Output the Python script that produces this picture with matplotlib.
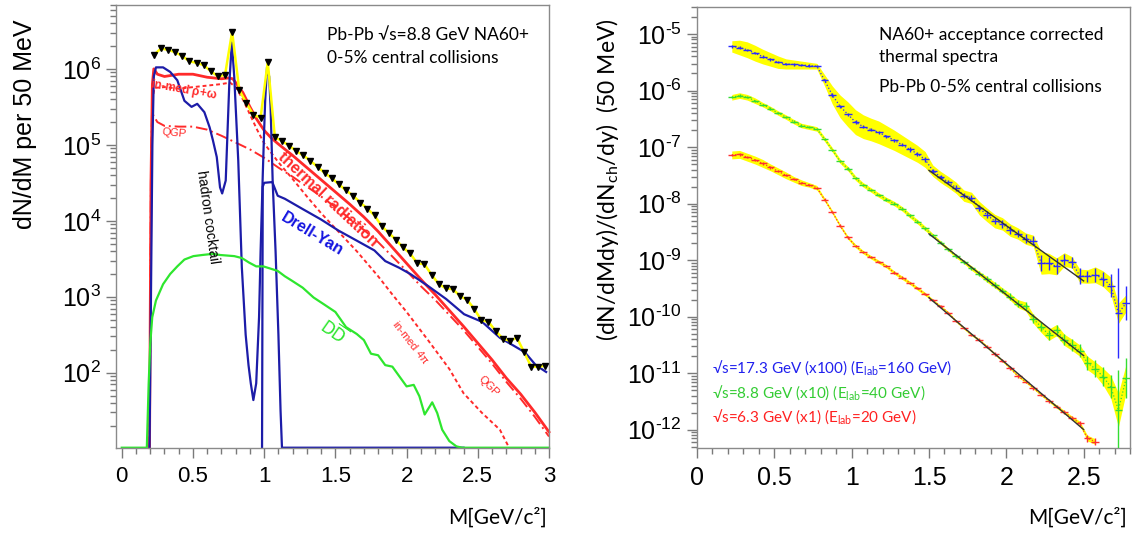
import numpy as np
import matplotlib.pyplot as plt
from matplotlib.ticker import FixedLocator, LogLocator, MultipleLocator, NullFormatter, LogFormatterMathtext

plt.rcParams['font.family'] = ['Liberation Sans', 'DejaVu Sans']
plt.rcParams['mathtext.default'] = 'regular'

TXT = ['Lato', 'DejaVu Sans']
NARROW = ['Liberation Sans Narrow', 'Liberation Sans', 'DejaVu Sans']

# ---------------- left panel: projected NA60+ spectrum (values are log10) ----------------
bins_l = np.round(np.arange(0.225, 3.0, 0.05), 3)
data_l = [6.18, 6.27, 6.25, 6.22, 6.17, 6.10, 6.08, 6.05, 5.97, 5.90, 5.92, 6.49,
          5.72, 5.55, 5.39, 5.36, 6.09, 5.10, 5.05, 4.99, 4.92, 4.86, 4.79, 4.71,
          4.63, 4.56, 4.48, 4.40, 4.33, 4.24, 4.16, 4.07, 3.93, 3.84, 3.75, 3.65,
          3.57, 3.44, 3.43, 3.29, 3.17, 3.11, 3.10, 3.01, 2.96, 2.84, 2.69, 2.67,
          2.55, 2.45, 2.42, 2.46, 2.27, 2.08, 2.08, 2.09]

therm_m = [0.195, 0.205, 0.215, 0.225, 0.25, 0.30, 0.40, 0.50, 0.60, 0.70, 0.75, 0.78,
           0.80, 0.85, 0.90, 0.95, 1.00, 1.05, 1.10, 1.20, 1.30, 1.40, 1.50, 1.60,
           1.70, 1.80, 1.90, 2.00, 2.10, 2.20, 2.30, 2.40, 2.50, 2.60, 2.70, 2.80,
           2.90, 3.00]
therm_l = [0.0, 4.5, 5.8, 6.0, 5.93, 5.90, 5.93, 5.93, 5.89, 5.87, 5.88, 5.87,
           5.82, 5.69, 5.50, 5.33, 5.19, 5.09, 5.01, 4.86, 4.70, 4.54, 4.38, 4.22,
           4.05, 3.86, 3.65, 3.44, 3.23, 3.03, 2.82, 2.61, 2.39, 2.17, 1.93, 1.72,
           1.48, 1.22]

qgp_m = [0.195, 0.205, 0.212, 0.25, 0.30, 0.40, 0.50, 0.60, 0.70, 0.80, 0.90, 1.00,
         1.10, 1.20, 1.30, 1.40, 1.50, 1.60, 1.70, 1.80, 1.90, 2.00, 2.10, 2.20,
         2.30, 2.40, 2.50, 2.60, 2.70, 2.80, 2.90, 3.00]
qgp_l = [0.0, 4.6, 5.42, 5.30, 5.25, 5.24, 5.24, 5.20, 5.12, 5.03, 4.94, 4.83,
         4.70, 4.58, 4.45, 4.32, 4.18, 4.03, 3.88, 3.72, 3.53, 3.34, 3.14, 2.96,
         2.76, 2.56, 2.34, 2.12, 1.88, 1.66, 1.42, 1.16]

inmed_m = [0.195, 0.205, 0.215, 0.23, 0.30, 0.40, 0.50, 0.60, 0.70, 0.76, 0.80, 0.85,
           0.90, 0.95, 1.00, 1.10, 1.20, 1.30, 1.40, 1.50, 1.65, 1.80, 1.90, 2.00,
           2.15, 2.30, 2.40, 2.53, 2.655, 2.72]
inmed_l = [0.0, 4.0, 5.6, 5.75, 5.76, 5.74, 5.76, 5.78, 5.80, 5.82, 5.76, 5.60,
           5.40, 5.20, 5.02, 4.77, 4.55, 4.32, 4.10, 3.90, 3.60, 3.27, 3.03, 2.80,
           2.43, 2.05, 1.73, 1.47, 1.25, 0.0]

cock_m = [0.195, 0.205, 0.215, 0.225, 0.24, 0.29, 0.34, 0.39, 0.44, 0.49, 0.53, 0.58,
          0.617, 0.64, 0.667, 0.69, 0.705, 0.73, 0.742, 0.755, 0.773, 0.79, 0.818, 0.843,
          0.87, 0.89, 0.906, 0.924, 0.944, 0.964, 0.975, 0.99, 1.0, 1.007, 1.02, 1.035,
          1.045, 1.06, 1.08, 1.10, 1.115, 1.125, 2.40]
cock_l = [0.0, 3.0, 5.0, 5.9, 6.02, 6.02, 5.96, 5.85, 5.58, 5.50, 5.54, 5.43,
          5.23, 5.06, 4.84, 4.44, 4.36, 4.53, 5.14, 5.80, 6.35, 5.89, 4.79, 3.39,
          2.50, 2.10, 1.86, 1.64, 1.86, 2.73, 3.60, 4.60, 5.20, 5.58, 6.02, 5.90,
          5.50, 4.50, 3.60, 2.50, 1.50, 0.0, 0.0]

dy_m = [0.985, 0.99, 1.00, 1.057, 1.095, 1.145, 1.27, 1.397, 1.523, 1.649, 1.774, 1.85,
        1.95, 2.026, 2.152, 2.278, 2.404, 2.53, 2.655, 2.73, 2.83, 2.907, 2.98]
dy_l = [0.0, 4.45, 4.50, 4.51, 4.33, 4.29, 4.155, 4.02, 3.87, 3.74, 3.61, 3.47,
        3.38, 3.30, 3.14, 2.97, 2.77, 2.67, 2.46, 2.38, 2.27, 2.10, 2.01]

dd_m = [0.0, 0.176, 0.189, 0.20, 0.214, 0.24, 0.29, 0.34, 0.39, 0.44, 0.503, 0.566,
        0.64, 0.69, 0.79, 0.843, 0.894, 0.944, 0.994, 1.045, 1.095, 1.145, 1.196, 1.27,
        1.347, 1.42, 1.50, 1.575, 1.65, 1.70, 1.75, 1.80, 1.85, 1.90, 1.95, 2.00,
        2.05, 2.09, 2.127, 2.18, 2.215, 2.25, 2.30, 2.35, 2.39, 3.0]
dd_l = [0.0, 0.0, 1.86, 2.38, 2.73, 2.95, 3.165, 3.30, 3.40, 3.49, 3.535, 3.55,
        3.565, 3.55, 3.535, 3.51, 3.45, 3.40, 3.40, 3.37, 3.34, 3.27, 3.21, 3.12,
        2.99, 2.90, 2.80, 2.60, 2.51, 2.43, 2.25, 2.23, 2.10, 2.08, 1.95, 1.82,
        1.84, 1.69, 1.45, 1.61, 1.47, 1.25, 1.10, 1.03, 0.0, 0.0]

# ---------------- right panel: thermal spectra (values are log10) ----------------
bins_r = np.round(np.arange(0.225, 2.8, 0.05), 3)
blue_l = [-5.22, -5.24, -5.28, -5.34, -5.40, -5.45, -5.50, -5.53, -5.54, -5.55, -5.56, -5.57,
          -5.82, -6.08, -6.28, -6.42, -6.56, -6.64, -6.69, -6.74, -6.81, -6.88, -6.96, -7.04,
          -7.12, -7.22, -7.42, -7.53, -7.62, -7.72, -7.86, -7.90, -8.08, -8.20, -8.31, -8.36,
          -8.47, -8.53, -8.62, -8.66, -9.05, -9.06, -9.11, -8.99, -9.04, -9.28, -9.29, -9.26,
          -9.33, -9.45, -9.94, -9.76]
blue_sys = [0.10, 0.13, 0.14, 0.14, 0.13, 0.12, 0.11, 0.09, 0.08, 0.07, 0.06, 0.05,
            0.10, 0.16, 0.20, 0.22, 0.22, 0.21, 0.20, 0.20, 0.19, 0.18, 0.17, 0.16,
            0.15, 0.14, 0.10, 0.10, 0.10, 0.10, 0.10, 0.10, 0.12, 0.12, 0.12, 0.11,
            0.11, 0.10, 0.10, 0.10, 0.20, 0.18, 0.15, 0.12, 0.10, 0.12, 0.12, 0.14,
            0.14, 0.15, 0.18, 0.15]
blue_stat = [0.02, 0.02, 0.02, 0.02, 0.02, 0.02, 0.02, 0.02, 0.02, 0.02, 0.02, 0.02,
             0.03, 0.03, 0.03, 0.03, 0.03, 0.03, 0.03, 0.03, 0.03, 0.03, 0.03, 0.04,
             0.04, 0.04, 0.04, 0.04, 0.04, 0.05, 0.05, 0.05, 0.06, 0.06, 0.06, 0.07,
             0.07, 0.07, 0.08, 0.08, 0.14, 0.12, 0.14, 0.10, 0.10, 0.14, 0.10, 0.12,
             0.12, 0.20, 0.80, 0.30]

green_l = [-6.12, -6.09, -6.12, -6.18, -6.25, -6.32, -6.40, -6.47, -6.55, -6.62, -6.65, -6.68,
           -6.86, -7.05, -7.25, -7.38, -7.55, -7.67, -7.76, -7.85, -7.93, -8.00, -8.09, -8.21,
           -8.32, -8.44, -8.56, -8.69, -8.81, -8.93, -9.03, -9.14, -9.24, -9.34, -9.44, -9.54,
           -9.65, -9.77, -9.82, -10.04, -10.18, -10.32, -10.24, -10.41, -10.50, -10.60, -10.82, -10.92,
           -11.06, -11.24, -11.65, -11.09]
green_sys = [0.05, 0.05, 0.05, 0.05, 0.04, 0.04, 0.04, 0.04, 0.04, 0.04, 0.04, 0.04,
             0.04, 0.04, 0.04, 0.04, 0.04, 0.04, 0.04, 0.04, 0.04, 0.04, 0.04, 0.04,
             0.04, 0.04, 0.03, 0.03, 0.03, 0.03, 0.03, 0.04, 0.04, 0.05, 0.05, 0.05,
             0.06, 0.07, 0.08, 0.08, 0.10, 0.10, 0.10, 0.10, 0.10, 0.10, 0.12, 0.12,
             0.15, 0.20, 0.30, 0.25]
green_stat = [0.02, 0.02, 0.02, 0.02, 0.02, 0.02, 0.02, 0.02, 0.02, 0.02, 0.02, 0.02,
              0.02, 0.02, 0.02, 0.02, 0.02, 0.02, 0.02, 0.02, 0.03, 0.03, 0.03, 0.03,
              0.03, 0.03, 0.03, 0.03, 0.03, 0.03, 0.04, 0.04, 0.04, 0.05, 0.05, 0.05,
              0.06, 0.06, 0.07, 0.08, 0.08, 0.09, 0.10, 0.10, 0.11, 0.12, 0.13, 0.15,
              0.17, 0.20, 0.70, 0.35]

red_bins = bins_r[:48]
red_l = [-7.14, -7.13, -7.18, -7.23, -7.29, -7.36, -7.43, -7.50, -7.57, -7.63, -7.67, -7.72,
         -7.93, -8.15, -8.39, -8.60, -8.75, -8.86, -8.95, -9.03, -9.11, -9.22, -9.31, -9.40,
         -9.50, -9.60, -9.71, -9.82, -9.93, -10.08, -10.20, -10.32, -10.41, -10.53, -10.66, -10.78,
         -10.91, -11.05, -11.15, -11.26, -11.38, -11.49, -11.59, -11.69, -11.79, -11.89, -12.15, -12.21]
red_sys = [0.07, 0.07, 0.07, 0.07, 0.07, 0.06, 0.06, 0.06, 0.05, 0.05, 0.04, 0.04,
           0.03, 0.03, 0.03, 0.03, 0.03, 0.03, 0.03, 0.03, 0.03, 0.03, 0.03, 0.03,
           0.03, 0.03, 0.02, 0.02, 0.02, 0.02, 0.02, 0.02, 0.02, 0.02, 0.02, 0.02,
           0.02, 0.02, 0.02, 0.02, 0.02, 0.02, 0.03, 0.03, 0.03, 0.04, 0.05, 0.05]
red_stat = [0.02, 0.02, 0.02, 0.02, 0.02, 0.02, 0.02, 0.02, 0.02, 0.02, 0.02, 0.02,
            0.02, 0.02, 0.02, 0.02, 0.02, 0.02, 0.02, 0.02, 0.02, 0.02, 0.02, 0.02,
            0.02, 0.02, 0.02, 0.02, 0.02, 0.02, 0.02, 0.02, 0.03, 0.03, 0.03, 0.03,
            0.03, 0.03, 0.03, 0.03, 0.03, 0.03, 0.03, 0.04, 0.04, 0.04, 0.06, 0.06]

YMIN_L, YMAX_L = 10.3, 7.0e6
YMIN_R, YMAX_R = 4.8e-13, 3.0e-5

C_RED = '#ff2a2a'
C_NAVY = '#1c1ca8'
C_GREEN = '#2ee62e'


def style_axes(ax):
    for s in ax.spines.values():
        s.set_color('#8a8a8a')
        s.set_linewidth(1.0)
    ax.tick_params(which='both', direction='out', color='#7a7a7a', labelcolor='black',
                   top=False, right=False, width=1.0)
    ax.tick_params(which='major', length=7)
    ax.tick_params(which='minor', length=4)


def curve(ax, m, logv, ymin, **kw):
    y = np.clip(10.0 ** np.asarray(logv), ymin, None)
    ax.plot(m, y, clip_on=False, **kw)


def sci_label(v, pos):
    e = int(round(np.log10(v)))
    return r'$\mathdefault{10^{%s}}$' % (('\u2010%d' % -e) if e < 0 else '%d' % e)


fig = plt.figure(figsize=(11.36, 5.36), dpi=100)

# ---------- left ----------
ax1 = fig.add_axes([0.10255, 0.16474, 0.38072, 0.82649])
ax1.set_yscale('log')
ax1.set_xlim(-0.037, 3.0)
ax1.set_ylim(YMIN_L, YMAX_L)

curve(ax1, qgp_m, qgp_l, YMIN_L, color=C_RED, lw=1.4, ls=(0, (6, 2, 1, 2)))
curve(ax1, inmed_m, inmed_l, YMIN_L, color=C_RED, lw=1.4, ls=(0, (2, 1.5)))
curve(ax1, therm_m, therm_l, YMIN_L, color=C_RED, lw=2.0)
curve(ax1, cock_m, cock_l, YMIN_L, color=C_NAVY, lw=1.6)
curve(ax1, dy_m, dy_l, YMIN_L, color=C_NAVY, lw=1.6)
curve(ax1, dd_m, dd_l, YMIN_L, color=C_GREEN, lw=1.6)

ydata = 10.0 ** np.asarray(data_l)
ax1.plot(bins_l, ydata, color='#ffff00', lw=1.8, zorder=4)
ax1.plot(bins_l, ydata, ls='none', marker='v', ms=5, color='black', zorder=5)

ax1.xaxis.set_major_locator(MultipleLocator(0.5))
ax1.xaxis.set_minor_locator(MultipleLocator(0.1))
ax1.xaxis.set_major_formatter(plt.FuncFormatter(lambda v, p: '%g' % v))
ax1.yaxis.set_major_locator(FixedLocator([1e2, 1e3, 1e4, 1e5, 1e6]))
ax1.yaxis.set_major_formatter(LogFormatterMathtext())
ax1.yaxis.set_minor_locator(LogLocator(base=10, subs=np.arange(2, 10)))
ax1.yaxis.set_minor_formatter(NullFormatter())
style_axes(ax1)
ax1.tick_params(axis='x', labelsize=16, pad=6)
ax1.tick_params(axis='y', labelsize=18, pad=4)

ax1.text(0.487, 0.932, 'Pb-Pb \u221As=8.8 GeV NA60+', transform=ax1.transAxes,
         fontsize=12.5, family=TXT, va='center')
ax1.text(0.487, 0.880, '0-5% central collisions', transform=ax1.transAxes,
         fontsize=12.5, family=TXT, va='center')

lab = dict(rotation_mode='anchor', ha='center', va='center')
ax1.text(0.60, 10 ** 4.05, 'hadron cocktail', rotation=-82, fontsize=10, color='black', **lab)
ax1.text(1.45, 10 ** 4.28, 'thermal radiation', rotation=-43, fontsize=11.5,
         fontweight='bold', color=C_RED, **lab)
ax1.text(1.34, 10 ** 3.83, 'Drell-Yan', rotation=-31, fontsize=11.5,
         fontweight='bold', color='#1414e0', **lab)
ax1.text(1.49, 10 ** 2.55, r'$\mathrm{D}\overline{\mathrm{D}}$', rotation=-35, fontsize=12,
         color=C_GREEN, **lab)
ax1.text(2.03, 10 ** 2.40, r'in-med 4$\pi$', rotation=-52, fontsize=8, color=C_RED, **lab)
ax1.text(2.58, 10 ** 1.82, 'QGP', rotation=-45, fontsize=8, color=C_RED, **lab)
ax1.text(0.44, 10 ** 5.72, r'in-med $\rho\!+\!\omega$', rotation=-10, fontsize=8.5,
         fontweight='bold', color=C_RED, **lab)
ax1.text(0.37, 10 ** 5.16, 'QGP', rotation=-5, fontsize=8, color=C_RED, **lab)

fig.text(0.022, 0.963, 'dN/dM per 50 MeV', rotation=90, fontsize=18, ha='center', va='top')
fig.text(0.4815, 0.0354, 'M[GeV/c\u00b2]', fontsize=15, family=TXT, ha='right', va='center')

# ---------- right ----------
ax2 = fig.add_axes([0.61356, 0.16474, 0.38116, 0.82220])
ax2.set_yscale('log')
ax2.set_xlim(0.0, 2.8)
ax2.set_ylim(YMIN_R, YMAX_R)

series = [(bins_r, blue_l, blue_sys, blue_stat, '#2b2bff'),
          (bins_r, green_l, green_sys, green_stat, '#33dd33'),
          (red_bins, red_l, red_sys, red_stat, '#ff3030')]
for m, lv, sy, st, col in series:
    lv = np.asarray(lv)
    sy = np.asarray(sy)
    st = np.asarray(st)
    y = 10.0 ** lv
    ax2.fill_between(m, 10.0 ** (lv - sy), 10.0 ** (lv + sy), color='#ffff00', lw=0, zorder=1)
    ax2.plot(m, y, ls=':', color=col, lw=0.9, zorder=2)
    ax2.errorbar(m, y, xerr=0.025, yerr=[y - 10.0 ** (lv - st), 10.0 ** (lv + st) - y],
                 fmt='none', ecolor=col, elinewidth=1.0, zorder=3)
    sel = (m >= 1.5) & (m <= 2.5)
    k, b = np.polyfit(m[sel], lv[sel], 1)
    mm = np.array([1.5, 2.5])
    ax2.plot(mm, 10.0 ** (k * mm + b), color='#333333', lw=1.0, zorder=4)

ax2.xaxis.set_major_locator(MultipleLocator(0.5))
ax2.xaxis.set_minor_locator(MultipleLocator(0.1))
ax2.xaxis.set_major_formatter(plt.FuncFormatter(lambda v, p: '%g' % v))
ax2.yaxis.set_major_locator(FixedLocator([10.0 ** e for e in range(-12, -4)]))
ax2.yaxis.set_major_formatter(plt.FuncFormatter(sci_label))
ax2.yaxis.set_minor_locator(LogLocator(base=10, subs=np.arange(2, 10)))
ax2.yaxis.set_minor_formatter(NullFormatter())
style_axes(ax2)
for t in ax2.get_xticklabels() + ax2.get_yticklabels():
    t.set_family(NARROW)
ax2.tick_params(axis='x', labelsize=18, pad=6)
ax2.tick_params(axis='y', labelsize=18, pad=4)

for yy, s in [(0.936, 'NA60+ acceptance corrected'), (0.886, 'thermal spectra'),
              (0.818, 'Pb-Pb 0-5% central collisions')]:
    ax2.text(0.42, yy, s, transform=ax2.transAxes, fontsize=12.5, family=TXT, va='center')

leg = [(0.181, '\u221As=17.3 GeV (x100) (E$_{lab}$=160 GeV)', '#2020ee'),
       (0.124, '\u221As=8.8 GeV (x10) (E$_{lab}$=40 GeV)', '#33cc33'),
       (0.070, '\u221As=6.3 GeV (x1) (E$_{lab}$=20 GeV)', '#ff2020')]
for yy, s, col in leg:
    ax2.text(0.035, yy, s, transform=ax2.transAxes, fontsize=11, family=TXT,
             color=col, va='center')

fig.text(0.535, 0.966, '(dN/dMdy)/(dN$_{ch}$/dy)  (50 MeV)', rotation=90, fontsize=16.5,
         family=TXT, ha='center', va='top')
fig.text(0.992, 0.0354, 'M[GeV/c\u00b2]', fontsize=15, family=TXT, ha='right', va='center')

fig.savefig('out.png', dpi=100)
